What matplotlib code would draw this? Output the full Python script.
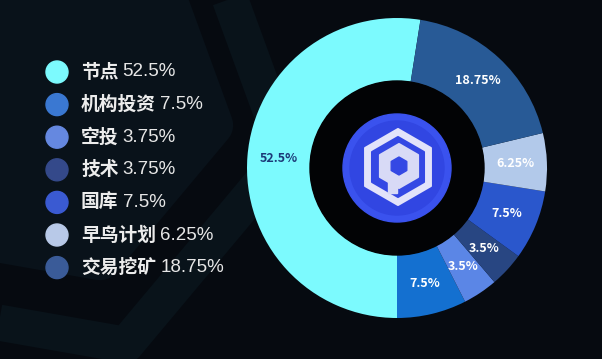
import matplotlib.pyplot as plt
from matplotlib.patches import Circle, RegularPolygon, Rectangle

plt.rcParams['font.family'] = ['Noto Sans CJK SC', 'DejaVu Sans']

# data
names = ['节点', '机构投资', '空投', '技术', '国库', '早鸟计划', '交易挖矿']
shares = [52.5, 7.5, 3.75, 3.75, 7.5, 6.25, 18.75]
legend_pcts = ['52.5%', '7.5%', '3.75%', '3.75%', '7.5%', '6.25%', '18.75%']
slice_labels = ['52.5%', '7.5%', '3.5%', '3.5%', '7.5%', '6.25%', '18.75%']
colors = ['#7cfafe', '#1470d0', '#5b86e6', '#284682', '#2a57cc', '#b2c9ea', '#285a96']
legend_colors = ['#7cfafe', '#3a78d2', '#6588e0', '#34498a', '#3a5ad2', '#b8c9e8', '#3a5b98']

W, H = 602, 359
bg = '#060a10'

fig = plt.figure(figsize=(W / 100, H / 100), dpi=100, facecolor=bg)
ax = fig.add_axes([0, 0, 1, 1])

# faint watermark in the background
ax.add_patch(RegularPolygon((40, H - 110), 6, radius=250, orientation=0.35,
                            facecolor='none', edgecolor='#09131a', linewidth=26,
                            joinstyle='round', zorder=0))
ax.add_patch(RegularPolygon((40, H - 95), 6, radius=175, orientation=0.35,
                            facecolor='#09121a', edgecolor='#09121a', linewidth=30,
                            joinstyle='round', zorder=0))

# donut
cx, cy = 397, H - 168
r_out, r_in = 150, 87
start = 270 - 3.6 * shares[0]
wedges, texts = ax.pie(shares, colors=colors, labels=slice_labels, center=(cx, cy),
                       radius=r_out, startangle=start, counterclock=True,
                       labeldistance=0.79, frame=True,
                       wedgeprops=dict(width=r_out - r_in, linewidth=0))
for i, t in enumerate(texts):
    t.set_ha('center')
    t.set_va('center')
    t.set_fontsize(9)
    t.set_fontweight('bold')
    t.set_color('#1c3a78' if i == 0 else 'white')
ax.set_xlim(0, W)
ax.set_ylim(0, H)
ax.set_aspect('equal')
ax.axis('off')

# dark hole + center logo
ax.add_patch(Circle((cx, cy), r_in, color='#020305', zorder=2))
ax.add_patch(Circle((cx, cy), 54, color='#3a52ee', zorder=3))
ax.add_patch(Circle((cx, cy), 47, color='#3146e2', zorder=3))
ax.add_patch(RegularPolygon((cx + 1, cy + 1), 6, radius=38, color='#e2e3fa',
                            linewidth=1.5, joinstyle='round', zorder=4))
ax.add_patch(RegularPolygon((cx + 1, cy + 1), 6, radius=30, color='#3448e4',
                            linewidth=1.5, joinstyle='round', zorder=4))
ax.add_patch(RegularPolygon((cx + 2, cy + 2), 6, radius=22, color='#d8daf6',
                            linewidth=1.5, joinstyle='round', zorder=5))
ax.add_patch(Rectangle((cx - 9, cy - 25), 9, 27, color='#d8daf6', zorder=5))
ax.add_patch(RegularPolygon((cx + 2, cy + 2), 6, radius=9, color='#3448e4',
                            linewidth=1, joinstyle='round', zorder=6))

# legend
lx, ly, step = 57, H - 72, 32.6
for i, (n, p, c) in enumerate(zip(names, legend_pcts, legend_colors)):
    y = ly - i * step
    ax.add_patch(Circle((lx, y), 11, color=c, zorder=3))
    t = ax.text(lx + 24, y, n, fontsize=13.5, fontweight='bold', color='#ececec',
                va='center', ha='left')
    ax.annotate(p, xy=(1, 0.5), xycoords=t, xytext=(3, 0), textcoords='offset points',
                fontsize=13.5, color='#e6e6e6', va='center', ha='left',
                family=['Liberation Sans', 'DejaVu Sans'])

fig.savefig('out.png', dpi=100, facecolor=bg)
